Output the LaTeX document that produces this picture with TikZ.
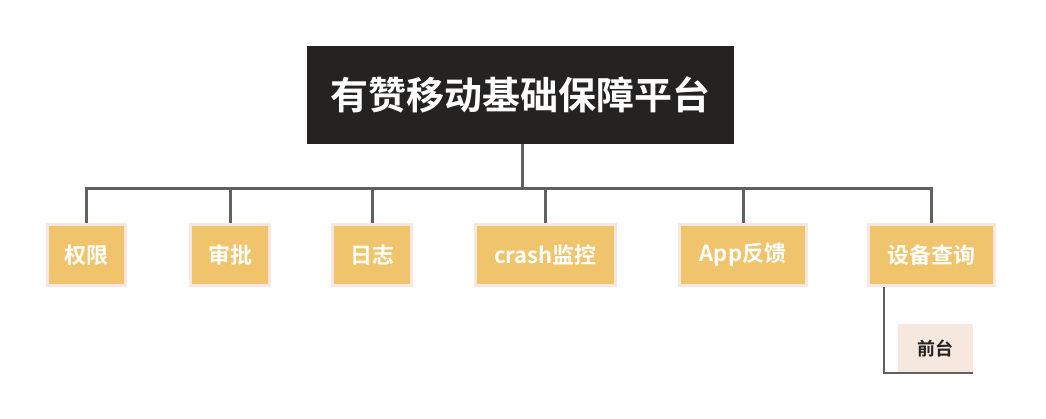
\documentclass[tikz,border=0pt]{standalone}
\usepackage{fontspec}
\setmainfont{Noto Sans CJK SC}
\newfontfamily\cjkb{Noto Sans CJK SC Bold}
\definecolor{darkbox}{HTML}{252321}
\definecolor{gold}{HTML}{F0C36D}
\definecolor{pinkb}{HTML}{F6E7DF}
\definecolor{linec}{HTML}{606060}
\begin{document}
\begin{tikzpicture}[x=1pt,y=-1pt,
  rootbox/.style={rectangle,fill=darkbox,text=white,font=\cjkb\fontsize{38}{42}\selectfont,minimum width=427pt,minimum height=98pt,inner sep=0pt},
  childbox/.style={rectangle,draw=pinkb,line width=3pt,fill=gold,text=white,font=\cjkb\fontsize{22}{26}\selectfont,minimum height=61pt,inner sep=0pt},
  leafbox/.style={rectangle,fill=pinkb,text=darkbox,font=\cjkb\fontsize{18}{22}\selectfont,minimum width=75pt,minimum height=48pt,inner sep=0pt},
  conn/.style={draw=linec,line width=3pt},
  subconn/.style={draw=linec,line width=1.8pt}]
\useasboundingbox (0,0) rectangle (1046,418);
\node[rootbox] (root) at (520.5,95) {\raisebox{-2pt}{有赞移动基础保障平台}};
\coordinate (bus) at (522,188);
\node[childbox,minimum width=78pt] (c1) at (86.5,255) {\raisebox{-3pt}{权限}};
\node[childbox,minimum width=79pt] (c2) at (230,255) {\raisebox{-3pt}{审批}};
\node[childbox,minimum width=79pt] (c3) at (372,255) {\raisebox{-3pt}{日志}};
\node[childbox,minimum width=140pt] (c4) at (545.5,255) {\raisebox{-3pt}{crash监控}};
\node[childbox,minimum width=127pt] (c5) at (743,255) {\raisebox{-3pt}{App反馈}};
\node[childbox,minimum width=126pt] (c6) at (931.5,255) {\raisebox{-3pt}{设备查询}};
\node[leafbox] (c7) at (935.5,348) {\raisebox{-3pt}{前台}};
\foreach \c in {c1,c2,c3,c4,c5,c6}{
  \draw[conn] ([xshift=1.5pt]root.south) -- (bus) -| (\c.north);
}
\draw[subconn] ([xshift=-47.5pt]c6.south) |- ([yshift=-1pt]c7.south east);
\end{tikzpicture}
\end{document}
